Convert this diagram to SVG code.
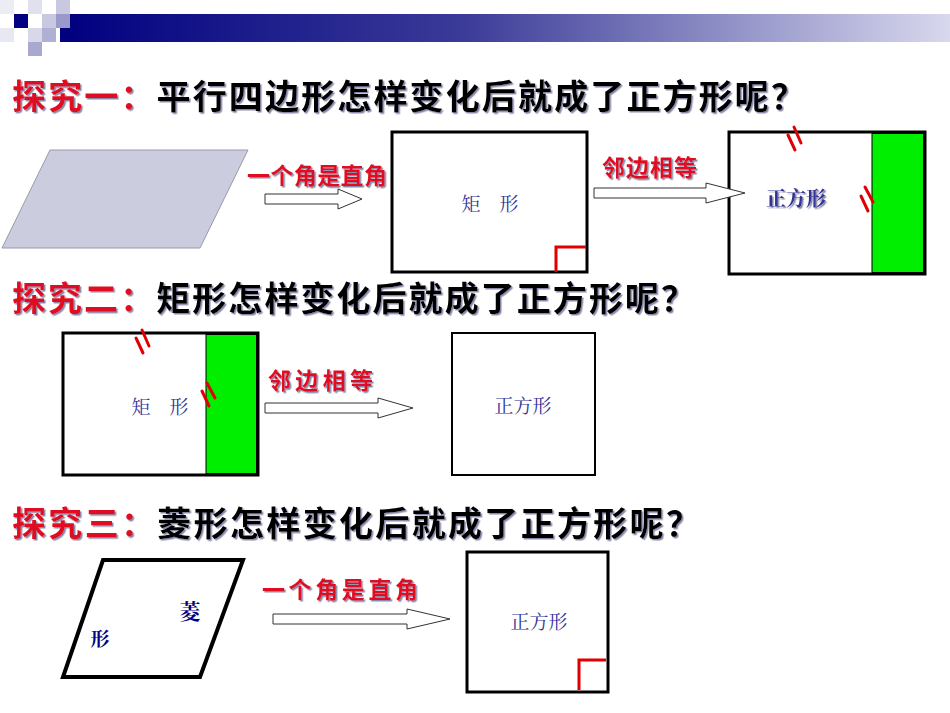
<svg xmlns="http://www.w3.org/2000/svg" width="950" height="713" viewBox="0 0 950 713">
<defs>
<linearGradient id="bar" x1="0" x2="1" y1="0" y2="0"><stop offset="0" stop-color="#000080"/><stop offset="0.45" stop-color="#3a3a98"/><stop offset="1" stop-color="#d8d8ee"/></linearGradient>
<filter id="sh" x="-5%" y="-5%" width="110%" height="120%"><feDropShadow dx="1.5" dy="1.5" stdDeviation="0.3" flood-color="#8888aa"/></filter>
</defs>
<style>
.t{font-family:"Noto Sans CJK SC",sans-serif;font-weight:bold;font-size:34px;fill:#000;filter:url(#sh)}
.r{fill:#e01020}
.lab{font-family:"Noto Sans CJK SC",sans-serif;font-weight:bold;font-size:23px;fill:#e01020;filter:url(#sh)}
.nm{font-family:"Noto Serif CJK SC","Noto Sans CJK SC",serif;font-size:19px;fill:#333399}
.box{fill:#fff;stroke:#000;stroke-width:3}
.arr{fill:#fff;stroke:#333;stroke-width:1}
.tick{stroke:#e00000;stroke-width:3;stroke-linecap:round}
.corner{fill:none;stroke:#e00000;stroke-width:3}
</style>
<g id="header">
<rect x="60" y="14" width="890" height="28" fill="url(#bar)"/>
<rect x="14" y="14" width="14" height="14" fill="#000080"/>
<rect x="28" y="0" width="14" height="14" fill="#e0e0ee"/>
<rect x="56" y="0" width="14" height="14" fill="#c8c8e0"/>
<rect x="42" y="14" width="14" height="14" fill="#c8c8e0"/>
<rect x="56" y="14" width="14" height="14" fill="#9999cc"/>
<rect x="28" y="28" width="14" height="14" fill="#d8d8ea"/>
<rect x="42" y="28" width="14" height="14" fill="#b0b0d4"/>
<rect x="0" y="28" width="14" height="14" fill="#e8e8f2"/>
<rect x="28" y="42" width="14" height="14" fill="#a8a8d0"/>
<rect x="0" y="0" width="14" height="14" fill="#ececf4"/>
</g>
<text class="t" x="12" y="109" textLength="793" lengthAdjust="spacing"><tspan class="r">探究一：</tspan>平行四边形怎样变化后就成了正方形呢？</text>
<text class="t" x="12" y="311" textLength="683" lengthAdjust="spacing"><tspan class="r">探究二：</tspan>矩形怎样变化后就成了正方形呢？</text>
<text class="t" x="12" y="536" textLength="688" lengthAdjust="spacing"><tspan class="r">探究三：</tspan>菱形怎样变化后就成了正方形呢？</text>
<g id="parallelogram"><polygon points="50,150 248,150 200,248 2,248" fill="#ccccdf" stroke="#9999aa" stroke-width="1"/></g>
<g id="rect1"><rect class="box" x="392" y="132" width="195" height="140"/><text class="nm" x="490" y="211" text-anchor="middle">矩　形</text><polyline class="corner" points="556,272 556,247 586,247"/></g>
<g id="square1"><rect class="box" x="729" y="132" width="196" height="142"/><rect x="872" y="133.5" width="51.5" height="139" fill="#00ee00" stroke="#000" stroke-width="1"/><text class="nm" x="796" y="206" text-anchor="middle" style="font-size:20px;font-weight:bold;filter:url(#sh)">正方形</text>
<line class="tick" x1="788" y1="135" x2="795" y2="150"/><line class="tick" x1="794" y1="127" x2="801" y2="143"/>
<line class="tick" x1="861" y1="196" x2="868" y2="211"/><line class="tick" x1="865" y1="187" x2="873" y2="202"/></g>
<g id="rect2"><rect class="box" x="63" y="333" width="195" height="142"/><rect x="206" y="334.5" width="50.5" height="139" fill="#00ee00" stroke="#000" stroke-width="1"/><text class="nm" x="160" y="414" text-anchor="middle">矩　形</text>
<line class="tick" x1="136" y1="338" x2="143" y2="353"/><line class="tick" x1="142" y1="330" x2="149" y2="346"/>
<line class="tick" x1="202" y1="391" x2="209" y2="406"/><line class="tick" x1="207" y1="383" x2="215" y2="398"/></g>
<g id="square2"><rect class="box" x="452" y="333" width="143" height="142" style="stroke-width:2"/><text class="nm" x="523" y="413" text-anchor="middle">正方形</text></g>
<g id="rhombus"><polygon points="103,560 243,560 200,677 63,677" fill="#fff" stroke="#000" stroke-width="4"/><text class="nm" x="190" y="619" text-anchor="middle" style="font-weight:bold;font-size:21px;fill:#000080">菱</text><text class="nm" x="100" y="646" text-anchor="middle" style="font-weight:bold;font-size:19px;fill:#000080">形</text></g>
<g id="square3"><rect class="box" x="467" y="552" width="141" height="140"/><text class="nm" x="539" y="629" text-anchor="middle">正方形</text><polyline class="corner" points="579,690 579,660 606,660"/></g>
<g id="connectors">
<polygon class="arr" points="265,194 338,194 338,189 362,199 338,209 338,204 265,204"/>
<polygon class="arr" points="594,188 706,188 706,183 745,193 706,203 706,198 594,198"/>
<polygon class="arr" points="265,403 378,403 378,398 413,408 378,418 378,413 265,413"/>
<polygon class="arr" points="273,614 407,614 407,609 450,619 407,629 407,624 273,624"/>
</g>
<text class="lab" x="247" y="184" textLength="140" lengthAdjust="spacing">一个角是直角</text>
<text class="lab" x="602" y="176" textLength="95" lengthAdjust="spacing">邻边相等</text>
<text class="lab" x="268" y="389" textLength="105" lengthAdjust="spacing">邻边相等</text>
<text class="lab" x="262" y="598" textLength="156" lengthAdjust="spacing">一个角是直角</text>
</svg>
